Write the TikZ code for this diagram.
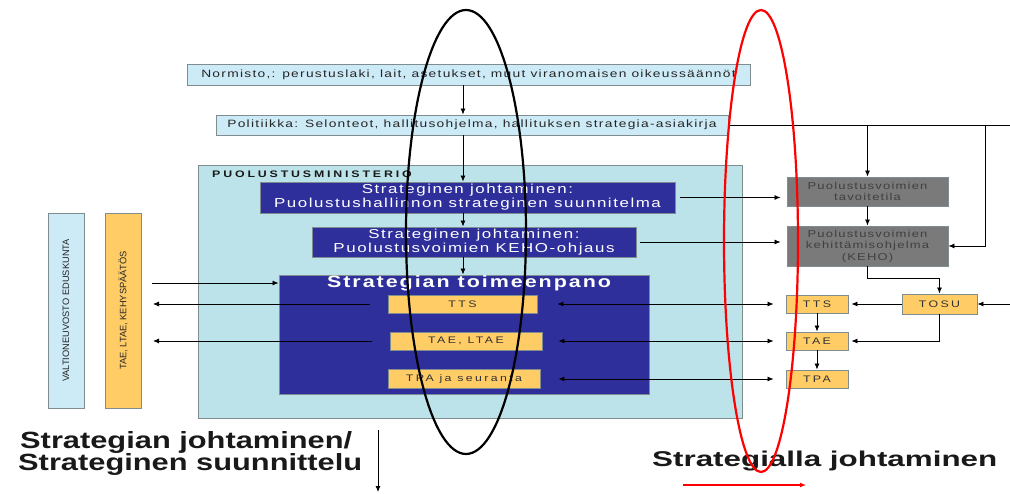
\documentclass[tikz,border=0pt]{standalone}
\usepackage{fontspec}
\setmainfont{Liberation Sans}
\newfontfamily\spc[FakeStretch=1.3, LetterSpace=12]{Liberation Sans}
\newfontfamily\spm[FakeStretch=1.3, LetterSpace=30]{Liberation Sans}
\newfontfamily\spy[FakeStretch=1.3, LetterSpace=25]{Liberation Sans}
\usetikzlibrary{arrows.meta}
\definecolor{lblue}{HTML}{CDEBF7}
\definecolor{pmfill}{HTML}{BDE3EA}
\definecolor{dblue}{HTML}{2F2F9C}
\definecolor{yel}{HTML}{FFCC66}
\definecolor{gbox}{HTML}{7A7A7A}
\definecolor{bord}{HTML}{7F8C90}
\begin{document}
\begin{tikzpicture}[x=1pt,y=-1pt,
 box/.style={draw=bord, line width=0.9pt, inner sep=0pt, align=center, font=\spc\fontsize{10.6}{11.5}\selectfont},
 lb/.style={box, fill=lblue, text=black!85},
 db/.style={box, fill=dblue, text=white, font=\spc\fontsize{13}{14}\selectfont},
 yb/.style={box, fill=yel, text=black!80, font=\spy\fontsize{9.5}{11}\selectfont},
 gb/.style={box, fill=gbox, text=black!75, font=\spc\fontsize{10}{11.5}\selectfont},
 vt/.style={box, rotate=90, text=black!85, font=\fontsize{9.3}{10}\selectfont},
 arr/.style={-{Latex[length=6pt,width=5pt]}, line width=0.8pt},
 arr2/.style={{Latex[length=6pt,width=5pt]}-{Latex[length=6pt,width=5pt]}, line width=0.8pt},
 big/.style={anchor=base west, inner sep=0pt, text=black!90},
 ring/.style={line width=2.2pt}]
\useasboundingbox[fill=white] (0,0) rectangle (1010,494);

% top boxes
\node[lb, minimum width=563pt, minimum height=21pt] (norm) at (468.5,74.5) {Normisto,: perustuslaki, lait, asetukset, muut viranomaisen oikeussäännöt};
\node[lb, minimum width=512pt, minimum height=20pt] (pol) at (472,125) {Politiikka: Selonteot, hallitusohjelma, hallituksen strategia-asiakirja};

% ministry
\node[box, fill=pmfill, minimum width=544pt, minimum height=253pt] (pm) at (470,291.5) {};
\node[anchor=west, inner sep=0pt, text=black!90, font=\spm\bfseries\fontsize{9.5}{10}\selectfont] (pmt) at (212,174) {PUOLUSTUSMINISTERIO};
\node[db, minimum width=415pt, minimum height=31pt] (s1) at (467.5,197.5) {Strateginen johtaminen:\\Puolustushallinnon strateginen suunnitelma};
\node[db, minimum width=324pt, minimum height=30pt] (s2) at (474,242) {Strateginen johtaminen:\\Puolustusvoimien KEHO-ohjaus};
\node[db, minimum width=370pt, minimum height=119pt] (s3) at (464,334.5) {};
\node[anchor=north, inner sep=0pt, text=white, font=\spc\bfseries\fontsize{16.5}{18}\selectfont] (s3t) at (469,275.5) {Strategian toimeenpano};
\node[yb, minimum width=149pt, minimum height=18pt] (tts) at (462.5,304) {TTS};
\node[yb, minimum width=152pt, minimum height=18pt] (tae) at (466,341) {TAE, LTAE};
\node[yb, minimum width=152pt, minimum height=19pt] (tpa) at (464,379) {TPA ja seuranta};

% left vertical boxes
\node[vt, fill=lblue, minimum width=195pt, minimum height=36pt] (vl) at (66,310.5) {VALTIONEUVOSTO EDUSKUNTA};
\node[vt, fill=yel, minimum width=195pt, minimum height=36pt] (vy) at (123,310.5) {TAE, LTAE, KEHYSPÄÄTÖS};

% right side
\node[gb, minimum width=161pt, minimum height=29pt] (tav) at (867.5,191.5) {Puolustusvoimien\\tavoitetila};
\node[gb, minimum width=161pt, minimum height=40pt] (keho) at (867.5,246) {Puolustusvoimien\\kehittämisohjelma\\(KEHO)};
\node[yb, minimum width=75pt, minimum height=20pt] (tosu) at (939.5,304) {TOSU};
\node[yb, minimum width=62pt, minimum height=18pt] (rtts) at (817,304) {TTS};
\node[yb, minimum width=62pt, minimum height=18pt] (rtae) at (817,341) {TAE};
\node[yb, minimum width=62pt, minimum height=18pt] (rtpa) at (817,379) {TPA};

% central arrows
\coordinate (cx) at (463,0);
\draw[arr] (norm.south -| cx) -- (pol.north -| cx);
\draw[arr] (pol.south -| cx) -- (s1.north -| cx);
\draw[arr] (s1.south -| cx) -- (s2.north -| cx);
\draw[arr] (s2.south -| cx) -- (s3.north -| cx);

% politics to right
\coordinate (pe) at (1010,125);
\coordinate (bx) at (985,0);
\draw[line width=0.8pt] (pol.east) -- (pe);
\draw[arr] (pol.east -| tav.north) -- (tav.north);
\draw[arr] (pol.east -| bx) |- (keho.east);
\draw[arr] ([xshift=5pt]s1.east) -- ([xshift=-6pt]s1.east -| tav.west);
\draw[arr] ([xshift=4pt]s2.east) -- ([xshift=-6pt]s2.east -| keho.west);
\draw[arr] (tav.south) -- (keho.north);
\draw[arr] (keho.south) -- ++(0,12) -| (tosu.north);
\coordinate (te) at (1010,0);
\draw[arr] (tosu.east -| te) -- (tosu.east);
\draw[arr] (tosu.west) -- ([xshift=3pt]rtts.east);
\draw[arr] (tosu.south) |- ([xshift=3pt]rtae.east);
\draw[arr] (rtts.south) -- (rtae.north);
\draw[arr] (rtae.south) -- (rtpa.north);

% double arrows
\draw[arr2] ([xshift=20pt]tts.east) -- ([xshift=-12pt]rtts.west);
\draw[arr2] ([xshift=16pt]tae.east) -- ([xshift=-12pt]rtae.west);
\draw[arr2] ([xshift=18pt]tpa.east) -- ([xshift=-12pt]rtpa.west);

% left arrows
\coordinate (la) at (152,283);
\coordinate (lx) at (153,0);
\draw[arr] (la) -- (la -| s3.west);
\draw[arr] ([xshift=-18pt]tts.west) -- (tts.west -| lx);
\draw[arr] ([xshift=-18pt]tae.west) -- (tae.west -| lx);

% bottom texts
\node[big] (b1) at (20,448) {\resizebox{332pt}{17pt}{\bfseries Strategian johtaminen/}};
\node[big] (b2) at (18,470) {\resizebox{344pt}{17pt}{\bfseries Strateginen suunnittelu}};
\node[big] (b3) at (652,466) {\resizebox{345pt}{15.5pt}{\bfseries Strategialla johtaminen}};
\coordinate (da) at (378,430);
\coordinate (db) at (378,492);
\draw[arr] (da) -- (db);
\coordinate (ra) at (683,485);
\coordinate (rb) at (806,485);
\draw[arr, red, line width=1.2pt] (ra) -- (rb);

% ellipses
\draw[ring] (466,232) ellipse [x radius=60, y radius=222];
\draw[ring, red] (761,241) ellipse [x radius=37, y radius=231];
\end{tikzpicture}
\end{document}
